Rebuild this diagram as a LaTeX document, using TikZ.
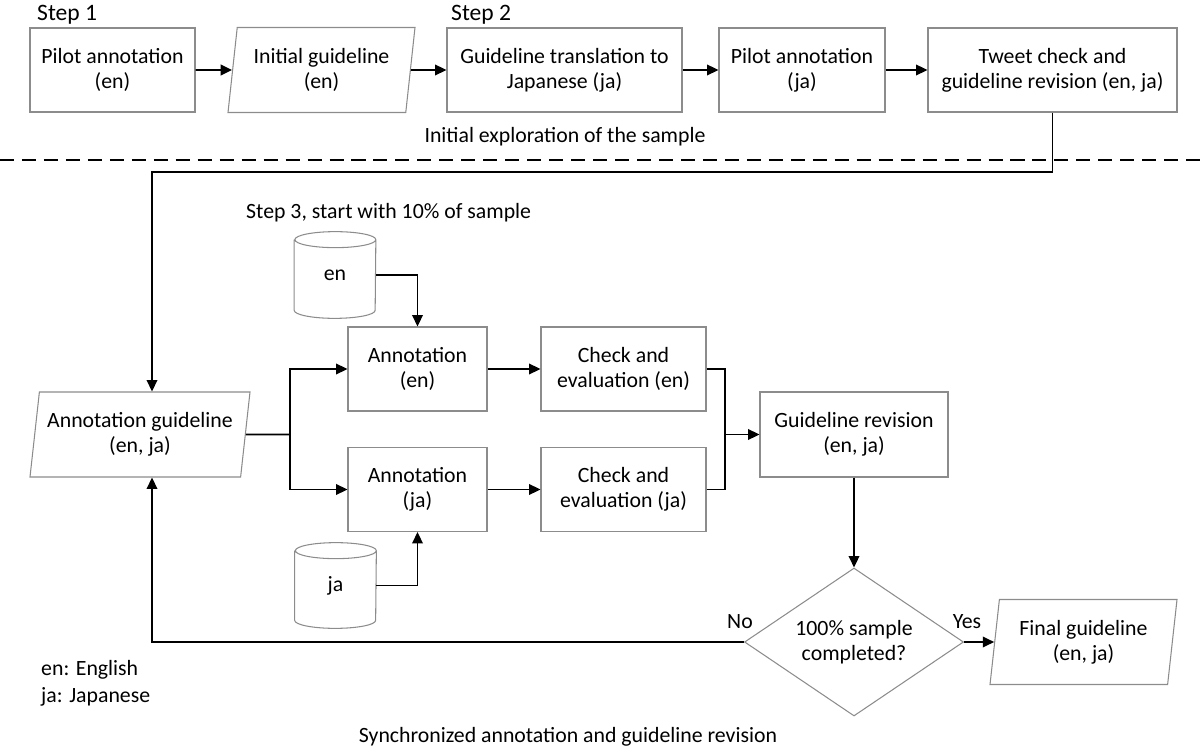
\documentclass[tikz,border=0pt]{standalone}
\usepackage{fontspec}
\setmainfont{Carlito}
\usetikzlibrary{arrows.meta,shapes.geometric,calc}
\def\dbdraw(#1){\draw[outline] ($(#1.north west)+(0,-0.16)$) -- ($(#1.south west)+(0,0.16)$) arc (180:360:0.81 and 0.16) -- ($(#1.north east)+(0,-0.16)$) arc (0:360:0.81 and 0.16);}

\begin{document}
\begin{tikzpicture}[
	font=\fontsize{12.4}{14.4}\selectfont,
	outline/.style={draw=black!45, line width=0.6pt},
	procbox/.style={outline, rectangle, align=center, minimum height=1.68cm, inner sep=0pt},
	databox/.style={outline, trapezium, trapezium left angle=78, trapezium right angle=102, trapezium stretches body=true, align=center, minimum height=1.70cm, inner sep=0pt},
	dbnode/.style={rectangle, minimum width=1.62cm, minimum height=1.72cm, inner sep=0pt},
	wire/.style={line width=1.1pt},
	conn/.style={wire, -{Triangle[length=6.5pt,width=6pt]}}
	]
			%%%%% START %%%%%
			\useasboundingbox (0,0) rectangle (24,-15.02);
			
			\node[anchor=west, font=\fontsize{13.4}{15}\selectfont] (step1) at (0.62, -0.30) {Step 1};
			\node[anchor=west, font=\fontsize{13.4}{15}\selectfont] (step2) at (8.90, -0.30) {Step 2};
			
			\node[procbox, minimum width=3.30cm] (pilen) at (2.25, -1.40) {Pilot annotation\\(en)};
			\node[databox, minimum width=3.74cm] (initg) at (6.43, -1.40) {Initial guideline\\(en)};
			\node[procbox, minimum width=4.70cm] (trans) at (11.29, -1.40) {Guideline translation to\\Japanese (ja)};
			\node[procbox, minimum width=3.32cm] (pilja) at (16.04, -1.40) {Pilot annotation\\(ja)};
			\node[procbox, minimum width=4.98cm] (tweet) at (21.05, -1.40) {Tweet check and\\guideline revision (en, ja)};
			
			\draw[conn] (pilen) -- (initg);
			\draw[conn] (initg) -- (trans);
			\draw[conn] (trans) -- (pilja);
			\draw[conn] (pilja) -- (tweet);
			
			\node (explore) at (11.30, -2.74) {Initial exploration of the sample};
			\draw[wire, dash pattern=on 8pt off 4.5pt] (0, -3.20) -- (24, -3.20);
			
			\node[anchor=west] (step3) at (4.80, -4.26) {Step 3, start with 10\% of sample};
			
			\node[databox, minimum width=4.40cm] (annog) at (2.80, -8.69) {Annotation guideline\\(en, ja)};
			\coordinate (turn) at (3.04, -3.44);
			\draw[conn] (tweet.south) |- (turn) -- (turn |- annog.north);
			
			\node[dbnode] (dben) at (6.70, -5.50) {en};
			\dbdraw(dben)
			\node[dbnode, minimum height=1.70cm] (dbja) at (6.71, -11.71) {ja};
			\dbdraw(dbja)
			
			\node[procbox, minimum width=2.78cm] (annen) at (8.35, -7.38) {Annotation\\(en)};
			\node[procbox, minimum width=2.78cm] (annja) at (8.35, -9.79) {Annotation\\(ja)};
			\node[procbox, minimum width=3.30cm] (chken) at (12.47, -7.38) {Check and\\evaluation (en)};
			\node[procbox, minimum width=3.30cm] (chkja) at (12.47, -9.79) {Check and\\evaluation (ja)};
			\node[procbox, minimum width=3.76cm, minimum height=1.70cm] (revis) at (17.08, -8.69) {Guideline revision\\(en, ja)};
			
			\coordinate (split) at (5.80, -8.69);
			\coordinate (join) at (14.50, -8.69);
			\draw[wire] (annog.east) -- (split);
			\draw[conn] (split) |- (annen.west);
			\draw[conn] (split) |- (annja.west);
			\draw[conn] (dben.east) -| (annen.north);
			\draw[conn] (dbja.east) -| (annja.south);
			\draw[conn] (annen) -- (chken);
			\draw[conn] (annja) -- (chkja);
			\draw[wire] (chken.east) -| (join);
			\draw[wire] (chkja.east) -| (join);
			\draw[conn] (join) -- (revis.west);
			
			\node[outline, diamond, aspect=1.48, minimum width=4.38cm, minimum height=2.96cm, inner sep=0pt, align=center] (done) at (17.08, -12.84) {100\% sample\\completed?};
			\node[databox, minimum width=3.74cm] (final) at (21.67, -12.84) {Final guideline\\(en, ja)};
			
			\draw[conn] (revis) -- (done);
			\draw[conn] (done.east) -- (final);
			\draw[conn] (done.west) -| (turn |- annog.south);
			
			\node (no) at (14.80, -12.44) {No};
			\node (yes) at (19.34, -12.44) {Yes};
			
			\node[anchor=west] (legen) at (0.70, -13.40) {en: English};
			\node[anchor=west] (legja) at (0.70, -13.94) {ja: Japanese};
			
			\node (sync) at (11.36, -14.74) {Synchronized annotation and guideline revision};
			%%%%% END %%%%%
\end{tikzpicture}
\end{document}
